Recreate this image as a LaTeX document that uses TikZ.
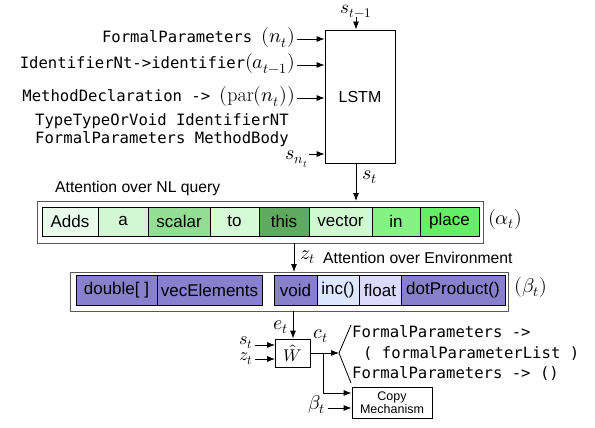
\documentclass[tikz,border=0pt]{standalone}
\usepackage{fontspec}
\usepackage{unicode-math}
\setmathfont{Latin Modern Math}
\newfontfamily\helv{Liberation Sans}
\newfontfamily\mono{DejaVu Sans Mono}
\usetikzlibrary{arrows.meta}
\definecolor{gA}{HTML}{E9FCEC}
\definecolor{gB}{HTML}{D3F7D3}
\definecolor{gC}{HTML}{93DE93}
\definecolor{gD}{HTML}{D6F9D6}
\definecolor{gE}{HTML}{5FAA5F}
\definecolor{gF}{HTML}{CFFACF}
\definecolor{gG}{HTML}{85F285}
\definecolor{gH}{HTML}{66EE66}
\definecolor{pA}{HTML}{8880CC}
\definecolor{pB}{HTML}{DDE6FF}
\definecolor{pC}{HTML}{DCDAFB}
\begin{document}
\begin{tikzpicture}[x=1pt,y=-1pt,
  arr/.style={-{Latex[length=8pt,width=6pt]}, line width=0.8pt},
  txt/.style={inner sep=0, font=\helv\fontsize{15.7}{18}\selectfont},
  mtxt/.style={inner sep=0, font=\mono\fontsize{15.6}{18}\selectfont, text height=12pt, text depth=4pt},
  mlab/.style={inner sep=0, font=\fontsize{20}{23}\selectfont, text height=9pt, text depth=5pt},
  cell/.style={draw, line width=0.8pt, inner sep=0, minimum height=29pt, font=\helv\fontsize{17}{20}\selectfont},
  ecell/.style={cell, minimum height=30pt},
  framebox/.style={draw=black!65, line width=1pt},
  boxst/.style={draw, line width=0.8pt, inner sep=0}]
\useasboundingbox (0,0) rectangle (595,428);

% LSTM
\node[boxst, minimum width=70pt, minimum height=133pt, font=\helv\fontsize{16}{19}\selectfont] (lstm) at (360,96.5) {LSTM};
\node[mlab, anchor=north, font=\fontsize{19}{22}\selectfont, text height=9pt, text depth=4pt] (stm1) at (356,4) {$s_{t-1}$};
\draw[arr] (stm1) -- (stm1 |- lstm.north);

% inputs
\node[mtxt, anchor=east] (l1) at (295,39) {FormalParameters \fontsize{20}{23}\selectfont$(n_t)$};
\node[mtxt, anchor=east] (l2) at (295,65) {IdentifierNt->identifier\fontsize{20}{23}\selectfont$(a_{t-1})$};
\node[mtxt, anchor=east] (l3) at (295,98) {MethodDeclaration -> \fontsize{20}{23}\selectfont$(\mathrm{par}(n_t))$};
\node[mtxt, anchor=base east] (l4) at (289,125) {TypeTypeOrVoid IdentifierNT};
\node[mtxt, anchor=base east] (l5) at (289,143.5) {FormalParameters MethodBody};
\node[mlab, anchor=east, text height=12pt, text depth=2pt] (snt) at (308,154) {$s_{n_t}$};
\draw[arr, shorten <=2pt] (l1) -- (l1 -| lstm.west);
\draw[arr, shorten <=2pt] (l2) -- (l2 -| lstm.west);
\draw[arr, shorten <=2pt] (l3) -- (l3 -| lstm.west);
\draw[arr, shorten <=1pt] (snt) -- (snt -| lstm.west);

% NL attention
\node[txt, anchor=west] (nlt) at (55,188) {Attention over NL query};
\draw[framebox] (37,201) rectangle (483,243);
\coordinate (nlN) at (260,201);
\coordinate (nlS) at (260,243);
\node[cell, fill=gA, minimum width=56pt] (c1) at (70,221.5) {Adds};
\node[cell, fill=gB, minimum width=50pt] (c2) at (123,221.5) {a};
\node[cell, fill=gC, minimum width=62pt] (c3) at (179,221.5) {scalar};
\node[cell, fill=gD, minimum width=49pt] (c4) at (234.5,221.5) {to};
\node[cell, fill=gE, minimum width=50pt] (c5) at (284,221.5) {this};
\node[cell, fill=gF, minimum width=63pt] (c6) at (340.5,221.5) {vector};
\node[cell, fill=gG, minimum width=48pt] (c7) at (396,221.5) {in};
\node[cell, fill=gH, minimum width=59pt] (c8) at (449.5,221.5) {place};
\node[mlab] (alpha) at (505,222) {$(\alpha_t)$};
\draw[arr] (lstm.south -| stm1) -- (nlN -| stm1);
\node[mlab] (st1) at (370,177) {$s_t$};

% Environment attention
\draw[framebox] (70,272) rectangle (508,311);
\coordinate (envN) at (289,272);
\coordinate (envS) at (289,311);
\coordinate (zx) at (294,0);
\draw[arr] (nlS -| zx) -- (envN -| zx);
\node[mlab] (zt1) at (308,257) {$z_t$};
\node[txt, anchor=west] (envt) at (323,258) {Attention over Environment};
\node[ecell, fill=pA, minimum width=81pt] (d1) at (116.5,290) {double[ ]};
\node[ecell, fill=pA, minimum width=105pt] (d2) at (209.5,290) {vecElements};
\node[ecell, fill=pA, minimum width=43pt] (d3) at (295.5,290) {void};
\node[ecell, fill=pB, minimum width=42pt] (d4) at (338,290) {inc()};
\node[ecell, fill=pC, minimum width=42pt] (d5) at (380,290) {float};
\node[ecell, fill=pA, minimum width=104pt] (d6) at (453,290) {dotProduct()};
\node[mlab] (beta) at (531,290) {$(\beta_t)$};

% W
\node[boxst, minimum width=35pt, minimum height=28pt, font=\fontsize{17}{20}\selectfont] (W) at (293,353) {$\hat{W}$};
\draw[arr] (envS -| W) -- (W.north);
\node[mlab] (et) at (281,327) {$e_t$};
\node[mlab, font=\fontsize{18}{21}\selectfont, text height=6pt, text depth=2pt] (st2) at (246,342) {$s_t$};
\node[mlab, font=\fontsize{18}{21}\selectfont, text height=6pt, text depth=2pt] (zt2) at (246,358) {$z_t$};
\draw[arr, shorten <=2pt] (st2.east |- 0,345) -- (W.west |- 0,345);
\draw[arr, shorten <=2pt] (zt2.east |- 0,359) -- (W.west |- 0,359);
\node[mlab] (ct) at (321,336) {$c_t$};
\coordinate (ltip) at (339,353);
\coordinate (lu) at (351,325);
\coordinate (ld) at (351,383);
\coordinate (bp) at (323,353);
\draw[arr] (W.east) -- (ltip);
\draw[line width=0.8pt] (lu) -- (ltip) -- (ld);
\node[mtxt, anchor=base west] (r1) at (352,337) {FormalParameters ->};
\node[mtxt, anchor=base west] (r2) at (363,358) {( formalParameterList )};
\node[mtxt, anchor=base west] (r3) at (352,378) {FormalParameters -> ()};

% Copy
\node[boxst, minimum width=80pt, minimum height=31pt, align=center, font=\helv\fontsize{12.5}{13.5}\selectfont] (copy) at (392,402.5) {Copy\\Mechanism};
\draw[arr] (bp) |- ([yshift=9.5pt]copy.west);
\node[mlab] (bt) at (317,407) {$\beta_t$};
\draw[arr, shorten <=2pt] (bt.east |- 0,408) -- (copy.west |- 0,408);
\end{tikzpicture}
\end{document}
